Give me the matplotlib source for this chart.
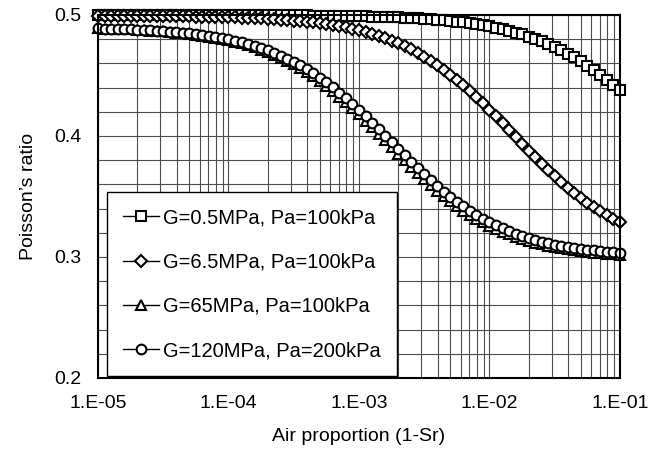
import numpy as np
import matplotlib
matplotlib.use("Agg")
import matplotlib.pyplot as plt
from matplotlib.ticker import LogLocator, MultipleLocator, FixedLocator, NullFormatter

# air proportion (1-Sr), 20 points per decade from 1E-05 to 1E-01
air = np.logspace(-5, -1, 81)

labels = ["G=0.5MPa, Pa=100kPa", "G=6.5MPa, Pa=100kPa",
          "G=65MPa, Pa=100kPa", "G=120MPa, Pa=200kPa"]
xtick_labels = ["1.E-05", "1.E-04", "1.E-03", "1.E-02", "1.E-01"]

# Poisson's ratio
nu_g05 = [
    0.4999, 0.4999, 0.4999, 0.4999, 0.4999, 0.4999, 0.4999, 0.4999, 0.4999, 0.4999,
    0.4999, 0.4999, 0.4999, 0.4999, 0.4999, 0.4999, 0.4999, 0.4999, 0.4999, 0.4999,
    0.4999, 0.4998, 0.4998, 0.4998, 0.4998, 0.4998, 0.4998, 0.4997, 0.4997, 0.4997,
    0.4996, 0.4996, 0.4996, 0.4995, 0.4995, 0.4994, 0.4993, 0.4993, 0.4992, 0.4991,
    0.4990, 0.4988, 0.4987, 0.4986, 0.4984, 0.4982, 0.4980, 0.4977, 0.4975, 0.4972,
    0.4969, 0.4965, 0.4961, 0.4956, 0.4951, 0.4945, 0.4939, 0.4932, 0.4924, 0.4915,
    0.4905, 0.4895, 0.4883, 0.4870, 0.4855, 0.4839, 0.4822, 0.4803, 0.4782, 0.4759,
    0.4735, 0.4708, 0.4680, 0.4649, 0.4616, 0.4582, 0.4545, 0.4506, 0.4465, 0.4423,
    0.4380,
]
nu_g65 = [
    0.4993, 0.4993, 0.4993, 0.4992, 0.4992, 0.4992, 0.4992, 0.4991, 0.4991, 0.4991,
    0.4990, 0.4990, 0.4989, 0.4988, 0.4988, 0.4987, 0.4986, 0.4985, 0.4984, 0.4983,
    0.4981, 0.4980, 0.4978, 0.4976, 0.4974, 0.4971, 0.4969, 0.4966, 0.4962, 0.4958,
    0.4954, 0.4949, 0.4944, 0.4938, 0.4932, 0.4924, 0.4916, 0.4907, 0.4897, 0.4885,
    0.4873, 0.4859, 0.4844, 0.4827, 0.4809, 0.4789, 0.4766, 0.4742, 0.4716, 0.4687,
    0.4656, 0.4623, 0.4587, 0.4548, 0.4507, 0.4464, 0.4418, 0.4370, 0.4320, 0.4269,
    0.4215, 0.4161, 0.4105, 0.4049, 0.3992, 0.3936, 0.3880, 0.3825, 0.3771, 0.3719,
    0.3668, 0.3620, 0.3573, 0.3529, 0.3488, 0.3448, 0.3412, 0.3378, 0.3346, 0.3317,
    0.3290,
]
nu_g650 = [
    0.4889, 0.4887, 0.4886, 0.4884, 0.4882, 0.4880, 0.4877, 0.4875, 0.4871, 0.4868,
    0.4864, 0.4860, 0.4855, 0.4850, 0.4844, 0.4837, 0.4830, 0.4821, 0.4812, 0.4802,
    0.4791, 0.4778, 0.4765, 0.4749, 0.4733, 0.4714, 0.4694, 0.4672, 0.4648, 0.4621,
    0.4593, 0.4562, 0.4529, 0.4493, 0.4455, 0.4414, 0.4371, 0.4326, 0.4279, 0.4230,
    0.4179, 0.4126, 0.4073, 0.4018, 0.3963, 0.3908, 0.3853, 0.3799, 0.3746, 0.3694,
    0.3643, 0.3595, 0.3548, 0.3503, 0.3461, 0.3421, 0.3384, 0.3349, 0.3316, 0.3286,
    0.3258, 0.3232, 0.3209, 0.3187, 0.3167, 0.3149, 0.3133, 0.3118, 0.3105, 0.3093,
    0.3082, 0.3072, 0.3063, 0.3055, 0.3048, 0.3041, 0.3035, 0.3030, 0.3026, 0.3021,
    0.3018,
]
nu_g1200 = [
    0.4890, 0.4888, 0.4887, 0.4885, 0.4884, 0.4882, 0.4879, 0.4877, 0.4874, 0.4871,
    0.4867, 0.4863, 0.4859, 0.4854, 0.4848, 0.4842, 0.4835, 0.4827, 0.4819, 0.4809,
    0.4799, 0.4787, 0.4774, 0.4760, 0.4744, 0.4727, 0.4708, 0.4687, 0.4664, 0.4639,
    0.4612, 0.4583, 0.4551, 0.4517, 0.4481, 0.4442, 0.4401, 0.4357, 0.4312, 0.4264,
    0.4214, 0.4163, 0.4111, 0.4057, 0.4003, 0.3948, 0.3894, 0.3839, 0.3786, 0.3734,
    0.3683, 0.3633, 0.3586, 0.3540, 0.3497, 0.3456, 0.3418, 0.3382, 0.3348, 0.3316,
    0.3287, 0.3261, 0.3236, 0.3214, 0.3193, 0.3174, 0.3157, 0.3141, 0.3127, 0.3115,
    0.3103, 0.3093, 0.3083, 0.3075, 0.3067, 0.3060, 0.3054, 0.3049, 0.3044, 0.3040,
    0.3036,
]

plt.rcParams['font.family'] = ['Liberation Sans', 'DejaVu Sans']

fig = plt.figure(figsize=(6.63, 4.58), dpi=100)
ax = fig.add_axes([0.1478, 0.1747, 0.7873, 0.7926])
ax.set_xscale('log')
ax.set_xlim(1e-5, 1e-1)
ax.set_ylim(0.2, 0.5)

series = [nu_g05, nu_g65, nu_g650, nu_g1200]
markers = ['s', 'D', '^', 'o']
for ys, m, lab in zip(series, markers, labels):
    ax.plot(air, ys, color='k', lw=1, marker=m, ms=6 if m == 'D' else 7,
            mfc='white', mec='k', mew=1.5, label=lab, clip_on=False)

ax.xaxis.set_major_locator(FixedLocator([1e-5, 1e-4, 1e-3, 1e-2, 1e-1]))
ax.set_xticklabels(xtick_labels)
ax.xaxis.set_minor_locator(LogLocator(base=10, subs=np.arange(2, 10)))
ax.xaxis.set_minor_formatter(NullFormatter())
ax.yaxis.set_major_locator(MultipleLocator(0.1))
ax.yaxis.set_minor_locator(MultipleLocator(0.02))
ax.grid(True, which='both', color='0.3', lw=0.8)
ax.tick_params(which='both', length=0, labelsize=14, pad=12)
for sp in ax.spines.values():
    sp.set_linewidth(1.5)

ax.set_ylabel("Poisson\u2019s ratio", fontsize=14, labelpad=12)
ax.set_xlabel("Air proportion (1-Sr)", fontsize=14, labelpad=12)
ax.legend(loc='lower left', bbox_to_anchor=(0.017, 0.005), borderaxespad=0,
          fontsize=14.5, frameon=True, fancybox=False, edgecolor='k', framealpha=1,
          handlelength=1.8, handletextpad=0.2, labelspacing=1.25, borderpad=0.8)

fig.savefig("out.png")
